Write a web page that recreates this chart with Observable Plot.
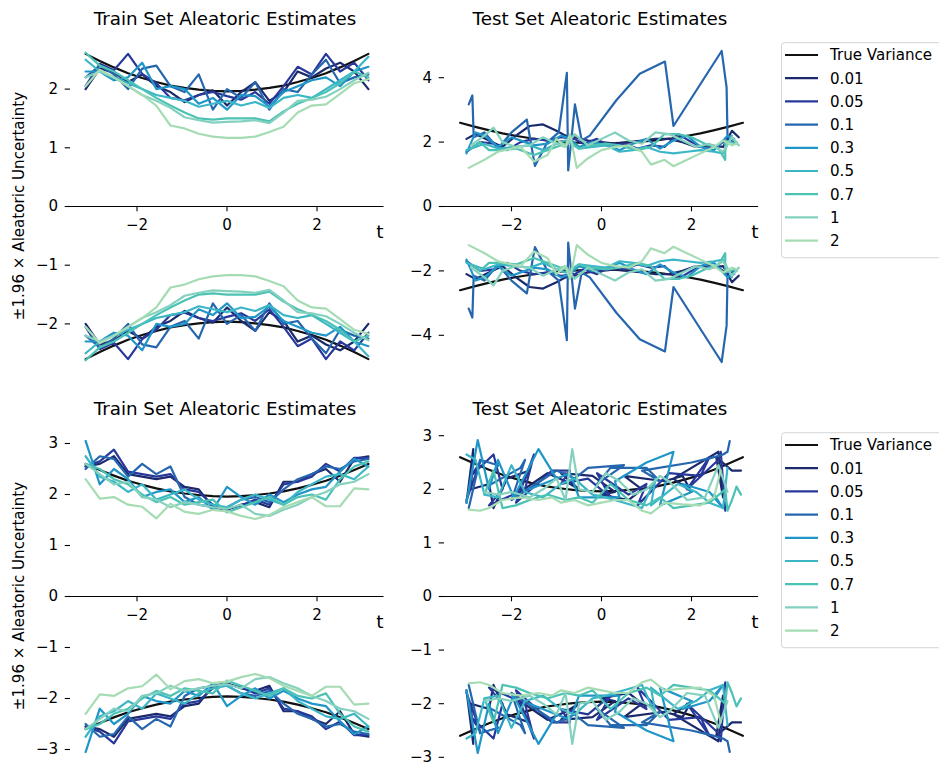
<!DOCTYPE html>
<html><head><meta charset="utf-8">
<script src="https://cdn.jsdelivr.net/npm/d3@7"></script>
<script src="https://cdn.jsdelivr.net/npm/@observablehq/plot@0.6"></script>
<style>
html,body{margin:0;padding:0;background:#fff;}
#fig{position:relative;width:939px;height:766px;overflow:hidden;background:#fff;font-family:"DejaVu Sans",sans-serif;color:#000;}
#fig svg{position:absolute;left:0;top:0;}
</style></head>
<body><div id="fig"></div>
<script>
// ---------- data ----------
const seriesNames = ["0.01","0.05","0.1","0.3","0.5","0.7","1","2"];
const seriesColors = ["#1b2a6c","#27389a","#2566ae","#2096c8","#3ab6c7","#4cc2b4","#84d1bf","#a5dcb3"];
const trueLabel = "True Variance";
const trueColor = "#111111";

const trainT = [-3.142,-2.827,-2.513,-2.199,-1.885,-1.571,-1.257,-0.942,-0.628,-0.314,0,0.314,0.628,0.942,1.257,1.571,1.885,2.199,2.513,2.827,3.142];
const trueVar = [2.60,2.48,2.37,2.27,2.19,2.12,2.06,2.02,1.99,1.97,1.96,1.97,1.99,2.02,2.06,2.12,2.19,2.27,2.37,2.48,2.60];

// top-left: train set (upper half; lower half is the negative)
const trainTopVals = [
  [2.0,2.35,2.28,2.12,2.25,2.05,1.95,1.78,1.9,1.98,1.72,1.95,2.12,1.8,1.95,2.3,2.2,2.35,2.45,2.3,2.0],
  [2.05,2.43,2.32,2.6,2.26,2.1,1.85,1.81,1.9,1.95,1.88,1.82,1.95,1.75,2.05,2.38,2.25,2.6,2.3,2.45,2.15],
  [2.2,2.4,2.25,2.0,2.35,2.4,2.05,1.95,2.25,1.65,2.0,1.85,2.12,1.65,2.0,1.95,2.25,2.5,2.1,2.2,2.25],
  [2.3,2.3,2.15,2.2,2.45,2.0,2.05,2.0,1.75,1.85,1.65,1.9,1.88,1.7,1.95,2.05,2.15,2.2,2.05,2.3,2.38],
  [2.5,2.3,2.2,2.1,2.0,1.9,1.85,1.8,1.7,1.75,1.8,1.72,1.78,1.68,1.85,1.9,1.85,2.0,2.15,2.3,2.55],
  [2.62,2.4,2.3,2.15,2.0,1.85,1.72,1.6,1.5,1.48,1.5,1.5,1.5,1.45,1.62,1.75,1.85,1.95,2.1,2.3,2.2],
  [2.2,2.3,2.2,2.05,1.9,1.8,1.68,1.52,1.47,1.43,1.44,1.45,1.47,1.42,1.6,1.8,1.82,1.87,2.0,2.15,2.28],
  [2.05,2.33,2.2,2.05,1.9,1.72,1.38,1.33,1.24,1.19,1.17,1.17,1.19,1.27,1.36,1.6,1.72,1.74,1.92,2.1,2.17]
];
// bottom-left: train set
const trainBottomVals = [
  [2.55,2.6,2.75,2.4,2.35,2.3,2.35,2.15,2.1,1.75,1.7,1.8,1.85,1.75,2.25,2.25,2.4,2.5,2.25,2.7,2.75],
  [2.55,2.65,2.88,2.45,2.4,2.35,2.4,2.1,2.05,1.8,1.72,1.78,1.9,1.8,2.2,2.25,2.35,2.6,2.45,2.72,2.72],
  [2.5,2.75,2.7,2.35,2.6,2.4,2.55,1.95,1.8,1.75,1.75,1.9,1.95,1.85,2.1,2.3,2.4,2.55,2.5,2.65,2.7],
  [3.05,2.2,2.5,2.3,1.95,2.05,2.1,1.85,1.95,1.7,2.15,1.95,1.8,2.0,1.85,2.0,2.1,2.15,2.45,2.7,2.55],
  [2.75,2.35,2.25,2.05,2.2,1.9,2.0,2.1,1.9,1.8,1.75,1.9,2.0,1.9,1.8,2.05,2.2,2.35,2.4,2.3,2.55],
  [2.6,2.5,2.3,2.2,2.0,1.85,1.95,1.8,1.85,1.9,1.65,1.75,1.85,1.95,1.8,1.95,2.0,1.9,2.3,2.55,2.65],
  [2.6,2.4,2.2,2.25,1.95,1.9,1.75,1.85,1.8,1.75,1.72,1.8,1.62,1.58,1.7,1.8,1.95,2.05,2.2,2.25,2.4],
  [2.3,1.92,1.95,1.8,1.76,1.53,1.82,1.66,1.62,1.7,1.67,1.58,1.52,1.6,1.75,1.85,1.95,1.77,1.77,2.12,2.1]
];

// top-right: test set (points in the order they are plotted)
const testTopT = [
  [-3.0,-2.8,-2.5,-2.2,-1.9,-1.6,-1.3,-1.0,-0.8,-0.6,-0.3,0.0,0.3,0.6,0.9,1.2,1.5,1.8,2.1,2.4,2.7,2.9,3.05],
  [-3.0,-2.7,-2.4,-2.1,-1.8,-1.5,-1.2,-0.9,-0.6,-0.4,-0.1,0.2,0.5,0.8,1.1,1.4,1.7,2.0,2.3,2.6,2.8,3.0],
  [-2.95,-2.87,-2.84,-2.6,-2.3,-2.0,-1.66,-1.48,-1.2,-0.95,-0.77,-0.74,-0.59,-0.44,-0.26,0.33,0.85,1.41,1.6,2.67,2.78,2.8,2.95],
  [-3.0,-2.8,-2.6,-2.3,-2.0,-1.7,-1.5,-1.2,-0.9,-0.7,-0.5,-0.2,0.1,0.4,0.7,1.0,1.3,1.6,1.9,2.2,2.5,2.8,3.0],
  [-3.0,-2.6,-2.3,-1.9,-1.6,-1.3,-1.0,-0.8,-0.5,-0.2,0.1,0.4,0.7,1.0,1.3,1.6,1.9,2.2,2.5,2.7,2.9],
  [-2.9,-2.7,-2.5,-2.2,-1.9,-1.5,-1.2,-0.9,-0.7,-0.5,-0.2,0.1,0.4,0.8,1.1,1.4,1.7,2.0,2.3,2.6,2.75,2.75,3.0],
  [-2.9,-2.6,-2.4,-2.2,-1.9,-1.6,-1.3,-1.0,-0.8,-0.6,-0.3,0.0,0.3,0.6,0.9,1.2,1.5,1.8,2.1,2.4,2.7,2.9,3.05],
  [-2.95,-2.6,-2.3,-2.0,-1.8,-1.5,-1.2,-1.0,-0.8,-0.7,-0.55,-0.3,0.0,0.3,0.6,0.9,1.1,1.4,1.6,1.9,2.2,2.5,2.7,2.9,3.0]
];
const testTopV = [
  [2.1,2.25,2.05,1.85,2.2,2.5,2.55,2.35,2.2,2.15,2.05,2.0,1.95,2.0,2.05,2.1,2.1,2.0,1.85,1.9,1.85,2.35,2.15],
  [1.7,2.0,1.95,1.75,2.0,2.1,2.05,2.15,2.1,1.95,2.1,1.85,1.95,1.8,1.9,1.85,2.25,2.0,1.8,1.9,2.1,1.95],
  [3.17,3.45,2.15,2.3,1.8,2.3,2.7,1.26,2.0,2.3,4.15,1.12,3.17,2.05,2.2,3.3,4.12,4.5,2.5,4.83,3.7,2.2,2.1],
  [1.65,2.3,2.2,1.85,2.15,2.0,1.9,1.95,2.2,2.1,1.85,2.0,1.9,1.75,1.95,2.1,1.8,2.05,2.2,1.85,1.75,2.2,2.0],
  [1.75,1.95,1.8,1.85,1.9,1.75,1.95,2.05,1.8,1.85,1.9,1.7,1.75,1.85,1.7,1.65,1.7,1.75,1.7,1.65,2.2],
  [1.8,2.0,1.75,1.75,1.8,1.6,1.75,1.9,2.0,1.8,1.9,1.95,1.9,1.75,1.85,2.25,2.25,2.15,1.95,1.8,1.45,2.05,1.95],
  [1.9,2.2,2.45,2.0,1.85,1.9,2.15,1.95,1.85,2.25,1.9,2.1,2.3,2.05,1.95,2.3,2.25,2.05,1.85,1.95,1.7,2.15,1.9],
  [1.2,1.45,1.7,1.8,1.85,1.4,1.6,2.1,1.85,2.25,1.2,1.5,1.75,1.85,1.9,1.7,1.3,1.45,1.25,1.45,1.65,1.85,2.05,1.9,1.95]
];

// bottom-right: test set
const testBottomT = [
  [-3.0,-2.85,-2.9,-2.5,-2.4,-2.1,-1.6,-1.9,-1.2,-0.8,-0.5,-0.9,-0.2,0.3,0.0,0.6,0.9,0.5,1.4,1.8,2.0,1.6,2.6,2.7,2.55,2.9,3.1],
  [-3.0,-2.7,-2.9,-2.4,-2.2,-2.5,-1.7,-1.5,-1.9,-1.1,-0.7,-0.9,-0.3,0.2,-0.1,0.6,1.0,0.8,1.5,2.2,2.4,1.9,2.6,2.65,2.75],
  [-2.95,-2.7,-2.3,-2.55,-1.8,-1.7,-2.0,-1.0,-0.6,-0.3,0.5,-0.1,0.2,1.0,1.3,0.9,2.0,2.5,2.3,2.7,2.8,2.85],
  [-3.0,-2.75,-2.5,-2.3,-1.95,-1.4,-1.0,-1.6,-0.7,-0.5,-0.1,0.4,0.3,1.0,1.6,1.3,2.0,1.8,2.4,2.7,2.5],
  [-3.0,-2.8,-2.6,-2.3,-2.0,-1.7,-1.3,-0.9,-0.6,-0.2,0.1,0.5,0.9,1.2,1.1,1.7,2.1,2.4,2.7,2.8],
  [-2.6,-2.4,-2.2,-1.9,-1.6,-1.2,-0.8,-0.5,-0.2,0.2,0.6,1.0,1.3,1.6,2.0,2.4,2.75,2.8,2.9,3.0,3.1],
  [-2.6,-2.3,-2.0,-1.6,-1.3,-1.0,-0.8,-0.65,-0.5,-0.2,0.1,0.4,0.7,1.0,1.3,1.5,1.9,2.3,2.6,2.8],
  [-2.95,-2.7,-2.5,-2.2,-1.8,-1.4,-1.1,-0.9,-0.6,-0.3,0.0,0.3,0.6,0.9,1.1,1.4,1.8,2.2,2.5,2.65]
];
const testBottomV = [
  [1.75,2.75,2.0,2.1,1.65,2.2,2.35,1.9,2.3,2.15,2.0,2.3,2.25,1.95,1.9,1.8,2.0,2.25,2.15,2.25,1.95,2.2,2.7,1.85,2.6,2.35,2.35],
  [1.8,2.5,2.25,2.65,2.0,1.7,2.0,2.65,1.75,2.35,2.35,2.1,2.2,1.85,2.3,1.9,2.1,1.7,2.3,2.25,2.6,2.0,2.55,2.7,1.6],
  [1.65,2.55,2.45,2.05,2.4,2.55,1.8,2.35,2.2,2.4,2.45,2.1,2.4,2.4,2.15,2.35,2.5,2.6,2.55,2.65,2.7,2.9],
  [1.75,2.92,2.0,2.55,1.85,2.75,2.2,2.0,2.3,1.85,1.85,1.85,2.15,2.5,2.7,1.7,1.95,2.1,1.95,1.65,1.9],
  [2.65,2.55,1.9,1.85,2.45,1.95,1.85,2.1,2.2,1.9,1.85,1.75,1.65,2.2,1.7,2.1,1.95,1.75,1.65,2.4],
  [1.9,2.35,1.65,1.7,1.8,1.9,1.8,1.85,1.75,2.1,1.8,1.7,1.85,1.65,1.7,1.75,2.0,1.6,1.8,2.05,1.9],
  [1.95,1.9,1.95,1.85,2.0,2.2,1.8,2.75,2.0,1.95,2.3,2.15,1.9,2.0,2.25,2.15,1.8,1.85,2.45,1.95],
  [1.62,1.6,1.65,1.8,1.85,1.8,1.85,1.75,1.8,1.7,1.75,1.8,1.8,1.6,1.55,1.75,1.72,1.7,1.85,2.35]
];

const xTicks = [-2, 0, 2];
const yTicksTopTrain = [-2, -1, 0, 1, 2];
const yTicksTopTest = [-4, -2, 0, 2, 4];
const yTicksBottom = [-3, -2, -1, 0, 1, 2, 3];
const titles = ["Train Set Aleatoric Estimates", "Test Set Aleatoric Estimates"];
const yLabel = "±1.96 × Aleatoric Uncertainty";
const xLabel = "t";

// ---------- drawing ----------
const W = 939, H = 766;
const FONT = "DejaVu Sans";
const TICK_FS = 15.1;
const fmt = d => d < 0 ? "\u2212" + Math.abs(d) : String(d);
const fig = document.getElementById("fig");

function panel({x0, yZero, ppuY, yTicks, axisLeft, spineLeft, ts, vs}) {
  const ppuX = 45;
  const xDom = [-3.59, 3.49];
  const yDom = [-6, 6];
  const marks = [];
  marks.push(Plot.ruleY([0], {x1: (spineLeft - x0) / ppuX, x2: xDom[1], stroke: "#000", strokeWidth: 1.1}));
  marks.push(Plot.ruleX(xTicks, {x: d => d, y1: 0, y2: -5.3 / ppuY, stroke: "#000", strokeWidth: 1.1}));
  marks.push(Plot.text(xTicks, {x: d => d, y: 0, dy: 19, text: fmt, fontSize: TICK_FS, fill: "#000"}));
  marks.push(Plot.axisY(yTicks, {anchor: "left", tickSize: 5.3, tickPadding: 7, tickFormat: fmt, fontSize: TICK_FS, label: null, stroke: "#000", strokeWidth: 1.1}));
  // true variance
  for (const s of [1, -1]) {
    marks.push(Plot.line(trainT.map((t, i) => ({t, v: s * trueVar[i]})), {x: "t", y: "v", stroke: trueColor, strokeWidth: 2.2}));
  }
  ts.forEach((tArr, k) => {
    for (const s of [1, -1]) {
      const rows = tArr.map((t, i) => ({t, v: s * vs[k][i]}));
      marks.push(Plot.line(rows, {x: "t", y: "v", stroke: seriesColors[k], strokeWidth: 2.2}));
    }
  });
  const svg = Plot.plot({
    width: W, height: H,
    marginTop: 0, marginRight: 0, marginBottom: 0, marginLeft: axisLeft,
    x: {domain: xDom, range: [x0 + xDom[0] * ppuX, x0 + xDom[1] * ppuX], axis: null},
    y: {domain: yDom, range: [yZero - yDom[0] * ppuY, yZero - yDom[1] * ppuY], axis: null},
    style: {background: "transparent", fontFamily: FONT, fontSize: TICK_FS + "px", color: "#000", overflow: "visible"},
    marks
  });
  svg.style.pointerEvents = "none";
  fig.appendChild(svg);
}

const trainTs = trainTopVals.map(() => trainT);
panel({x0: 226.5, yZero: 206, ppuY: 58.7, yTicks: yTicksTopTrain, axisLeft: 70, spineLeft: 65, ts: trainTs, vs: trainTopVals});
panel({x0: 601, yZero: 206, ppuY: 32.2, yTicks: yTicksTopTest, axisLeft: 444, spineLeft: 439.3, ts: testTopT, vs: testTopV});
panel({x0: 226.5, yZero: 596, ppuY: 51, yTicks: yTicksBottom, axisLeft: 70, spineLeft: 65, ts: trainTs, vs: trainBottomVals});
panel({x0: 601, yZero: 596, ppuY: 53.6, yTicks: yTicksBottom, axisLeft: 444, spineLeft: 440, ts: testBottomT, vs: testBottomV});

// ---------- text overlay & legends ----------
const ov = d3.select(fig).append("svg").attr("width", W).attr("height", H)
  .style("font-family", FONT).style("pointer-events", "none");

for (const row of [0, 390]) {
  ov.append("text").attr("x", 225).attr("y", 25 + row).attr("text-anchor", "middle").attr("font-size", 18.3).text(titles[0]);
  ov.append("text").attr("x", 600).attr("y", 25 + row).attr("text-anchor", "middle").attr("font-size", 18.3).text(titles[1]);
  ov.append("text").attr("transform", `translate(23.5,${206 + row}) rotate(-90)`).attr("text-anchor", "middle").attr("font-size", TICK_FS).text(yLabel);
  ov.append("text").attr("x", 380).attr("y", 238 + row).attr("text-anchor", "middle").attr("font-size", 18.5).text(xLabel);
  ov.append("text").attr("x", 755).attr("y", 238 + row).attr("text-anchor", "middle").attr("font-size", 18.5).text(xLabel);

  const lg = ov.append("g").attr("transform", `translate(0,${row})`);
  lg.append("rect").attr("x", 781.5).attr("y", 42.7).attr("width", 180).attr("height", 215).attr("rx", 3)
    .attr("fill", "#fff").attr("stroke", "#d6d6d6").attr("stroke-width", 1);
  const labels = [trueLabel, ...seriesNames];
  const colors = [trueColor, ...seriesColors];
  labels.forEach((lab, i) => {
    const y = 55 + 23.2 * i;
    lg.append("line").attr("x1", 785).attr("x2", 818).attr("y1", y).attr("y2", y).attr("stroke", colors[i]).attr("stroke-width", 2.2);
    lg.append("text").attr("x", 830).attr("y", y + 5.3).attr("font-size", TICK_FS).text(lab);
  });
}
</script>
</body></html>
